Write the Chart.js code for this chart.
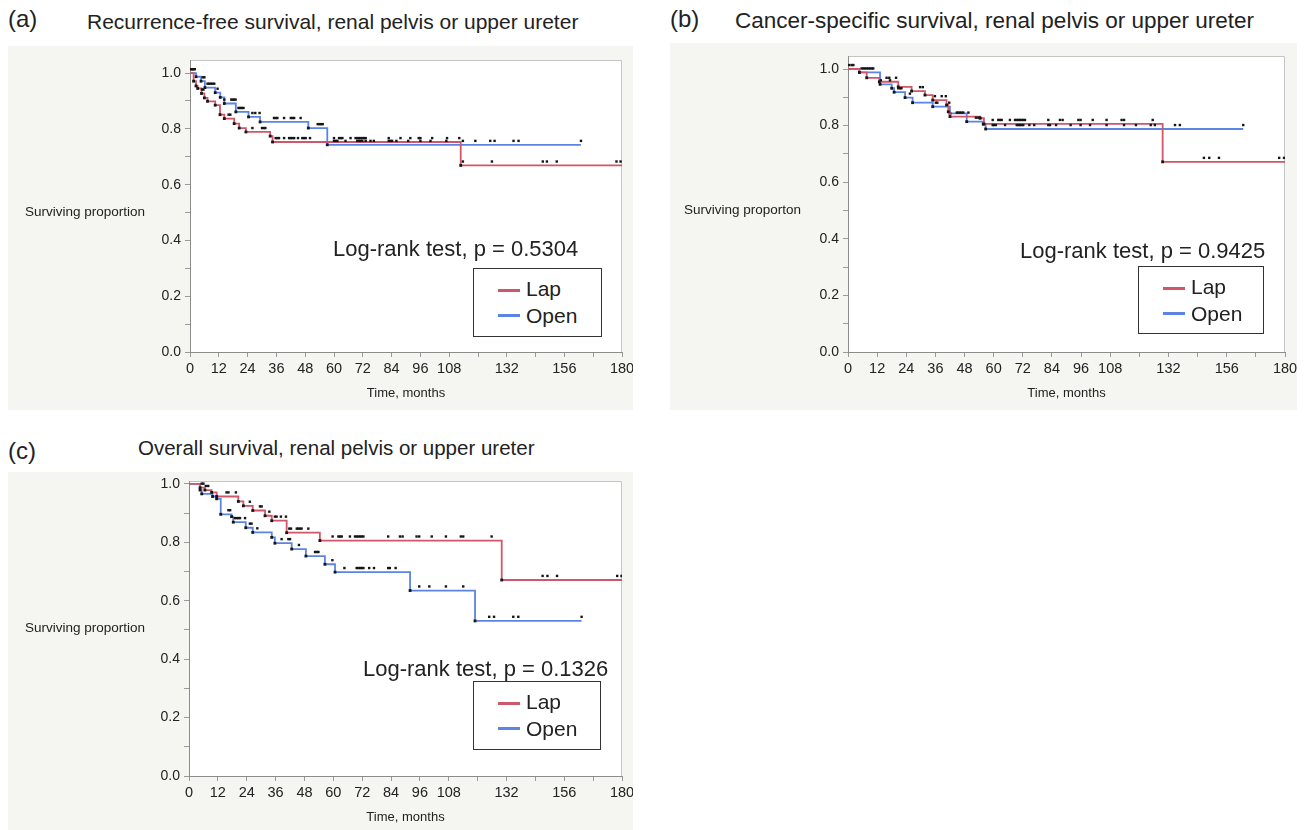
<!DOCTYPE html>
<html>
<head>
<meta charset="utf-8">
<title>Kaplan-Meier, renal pelvis or upper ureter</title>
<script src="https://cdn.jsdelivr.net/npm/chart.js@4.4.1/dist/chart.umd.min.js"></script>
<style>
  body { margin: 0; background: #fff; font-family: "Liberation Sans", Arial, sans-serif; color: #222; }
  #page { position: relative; width: 1307px; height: 830px; overflow: hidden; }
  .panel { position: absolute; background: #f5f5f2; }
  .txt { position: absolute; white-space: nowrap; line-height: 1; }
  canvas { position: absolute; }
  .legend { position: absolute; border: 1.5px solid #333; background: #fff; box-sizing: border-box; }
  .legend .swatch { position: absolute; height: 3px; width: 22px; }
</style>
</head>
<body>
<div id="page"></div>
<script>
// (a) recurrence-free survival: step times (months) and survival after each step
var rfsLapTimes = [0, 1.5, 2.5, 3.2, 4.8, 6, 7.3, 10.5, 12.5, 14.3, 18.4, 20.5, 23.3, 33.4, 34.4, 112.8];
var rfsLapSurv = [1.0, 0.971, 0.954, 0.945, 0.927, 0.911, 0.899, 0.885, 0.851, 0.837, 0.819, 0.803, 0.789, 0.774, 0.753, 0.669];
var rfsLapEnd = 180;
var rfsLapCensor = [0.8, 5, 5.6, 16.1, 16.8, 26, 30, 30.7, 31.4, 35.7, 36.4, 37.1, 39.2, 41.3, 42, 42.7, 43.4, 45, 46.8, 47.5, 48.2, 50,
  60, 62.1, 62.8, 63.5, 66.9, 69, 69.7, 70.4, 71.1, 71.8, 72.5, 73.2, 82.8, 87.7, 91.8, 95.3, 96, 100.9, 107.1, 112.2,
  113.7, 125.8, 147, 148.7, 152.8, 177.7, 179.4];
var rfsOpenTimes = [0, 2.5, 4.6, 6.2, 10.5, 12.6, 14.3, 19.1, 24.4, 29.2, 49.3, 57.2];
var rfsOpenSurv = [1.0, 0.987, 0.971, 0.948, 0.930, 0.913, 0.891, 0.861, 0.843, 0.825, 0.803, 0.743];
var rfsOpenEnd = 162.9;
var rfsOpenCensor = [0.5, 1, 1.5, 2, 5.3, 6, 7.3, 8, 8.7, 9.4, 10.1, 11.5, 14.3, 17.2, 17.8, 18.4, 19, 20.2, 20.9, 21.6, 22.3,
  26, 27.2, 29, 35, 35.7, 36.4, 39.2, 42, 42.7, 43.4, 46.1, 53.2, 53.9, 54.6, 55.3,
  60, 60.7, 61.4, 64.8, 69.7, 70.4, 71.1, 71.8, 73.2, 75.2, 76.6, 82.8, 83.5, 84.2, 86, 90.9, 96, 100.2, 106.8,
  113.7, 118.9, 125.1, 126.9, 134.8, 136.9, 162.9];

// (b) cancer-specific survival
var cssLapTimes = [0, 4.7, 7.7, 12.9, 20.7, 26.2, 31.7, 34.9, 40.6, 41.3, 42, 54.4, 56, 129.6];
var cssLapSurv = [1.0, 0.988, 0.969, 0.955, 0.937, 0.922, 0.908, 0.890, 0.873, 0.849, 0.832, 0.826, 0.806, 0.672];
var cssLapEnd = 180;
var cssLapCensor = [0.5, 1.5, 2.2, 15.9, 17, 19.8, 29.7, 30.8, 35.8, 38.6, 40.3, 44.8, 45.4, 46.1, 46.8, 47.5, 49.6,
  59.6, 61.9, 62.6, 63.3, 66.7, 68.8, 69.5, 70.2, 70.8, 71.5, 72.2, 72.9, 82.5, 87.3, 88.4, 94.9, 95.8, 100.8, 106.5,
  112.7, 113.7, 125.5, 146.6, 148.8, 152.8, 177.6, 179.6];
var cssOpenTimes = [0, 4.7, 13.2, 18, 19, 23.5, 26.6, 34.9, 42, 48.9, 55.7, 56.7];
var cssOpenSurv = [1.0, 0.988, 0.946, 0.932, 0.918, 0.899, 0.881, 0.867, 0.843, 0.814, 0.805, 0.788];
var cssOpenEnd = 162.8;
var cssOpenCensor = [5.6, 6.3, 7, 7.7, 8.4, 9.1, 9.8, 10.4, 13.5, 17.3, 20.7, 21.4, 22, 25.5, 36.2, 36.8, 41.7, 52.7, 53.7, 54.4,
  59.6, 60.1, 60.9, 64.7, 69.5, 70.2, 70.8, 71.5, 72.2, 74.7, 76.7, 82.5, 83.2, 85.7, 91.7, 95.8, 99.7, 106.5,
  113.7, 118.6, 124.7, 126.4, 134.7, 136.7, 162.8];

// (c) overall survival
var osLapTimes = [0, 4.6, 6.6, 9.4, 11.5, 20.5, 22.6, 26.5, 31.6, 34.4, 40.6, 54.4, 130];
var osLapSurv = [1.0, 0.987, 0.979, 0.971, 0.957, 0.940, 0.925, 0.909, 0.891, 0.874, 0.833, 0.806, 0.671];
var osLapEnd = 180;
var osLapCensor = [1, 2, 5.3, 6, 7, 8, 15.6, 16.4, 19.5, 25.3, 29.5, 30.2, 33.4, 35.7, 36.4, 38.2, 40.3, 41.7, 42.4,
  44.8, 45.4, 46.1, 46.8, 49.6, 59.7, 62.1, 62.8, 63.5, 66.9, 69, 69.7, 70.4, 71.1, 71.8, 72.5, 82.8, 87.7, 88.8,
  94.6, 95.7, 100.9, 106.8, 113, 114, 125.8, 147, 149, 153, 178, 179.8];
var osOpenTimes = [0, 4.6, 5.3, 9.8, 11.5, 13.2, 17.7, 18.4, 23.6, 26.5, 34.4, 35.7, 42.7, 48.6, 56.5, 60.7, 91.9, 118.9];
var osOpenSurv = [1.0, 0.979, 0.966, 0.957, 0.949, 0.896, 0.888, 0.869, 0.850, 0.834, 0.817, 0.797, 0.777, 0.753, 0.725, 0.698, 0.635, 0.531];
var osOpenEnd = 163.2;
var osOpenCensor = [1.5, 2.5, 3.5, 16.4, 17.1, 19.1, 19.8, 20.5, 21.2, 23.3, 25.3, 26, 28.4, 38.5, 41.3, 42, 45.7,
  52.4, 53.1, 53.8, 59.6, 64.6, 69.7, 70.4, 71.1, 71.8, 72.5, 74.9, 76.9, 82.8, 83.5, 85.9,
  95.7, 99.9, 106.8, 114, 124.8, 126.8, 134.8, 136.9, 163.2];

// tick labels (JMP leaves 120, 144 and 168 unlabeled)
var xTickLabels = ['0', '12', '24', '36', '48', '60', '72', '84', '96', '108', '', '132', '', '156', '', '180'];
var yTickLabels = ['0.0', '', '0.2', '', '0.4', '', '0.6', '', '0.8', '', '1.0'];
var groupNames = ['Lap', 'Open'];

var RED = '#d0566a';
var BLUE = '#5b84e4';
var DOT = '#151515';
var FONT = '"Liberation Sans", Arial, sans-serif';
var CENSOR_LIFT = 0.014; // censor marks sit a few pixels above the curve

var page = document.getElementById('page');

function addText(text, left, top, size) {
  var d = document.createElement('div');
  d.className = 'txt';
  d.textContent = text;
  d.style.left = left + 'px';
  d.style.top = top + 'px';
  d.style.fontSize = size + 'px';
  page.appendChild(d);
}

function addLegend(left, top, w, h) {
  var box = document.createElement('div');
  box.className = 'legend';
  box.style.left = left + 'px';
  box.style.top = top + 'px';
  box.style.width = w + 'px';
  box.style.height = h + 'px';
  var colors = [RED, BLUE];
  var lineY = [20, 44.5];
  var textY = [9, 35.5];
  for (var i = 0; i < groupNames.length; i++) {
    var sw = document.createElement('div');
    sw.className = 'swatch';
    sw.style.background = colors[i];
    sw.style.left = '24px';
    sw.style.top = lineY[i] + 'px';
    box.appendChild(sw);
    var t = document.createElement('div');
    t.className = 'txt';
    t.textContent = groupNames[i];
    t.style.left = '52px';
    t.style.top = textY[i] + 'px';
    t.style.fontSize = '21px';
    box.appendChild(t);
  }
  page.appendChild(box);
}

function survAt(times, surv, t) {
  var s = surv[0];
  for (var i = 0; i < times.length; i++) {
    if (times[i] <= t) s = surv[i];
  }
  return s;
}

function stepPoints(times, surv, end) {
  var pts = times.map(function (t, i) { return { x: t, y: surv[i] }; });
  pts.push({ x: end, y: surv[surv.length - 1] });
  return pts;
}

function censorPoints(times, surv, cens) {
  return cens.map(function (t) { return { x: t, y: survAt(times, surv, t) + CENSOR_LIFT }; });
}

// white plot area with a light frame on top and right
var framePlugin = {
  id: 'frame',
  beforeDraw: function (chart) {
    var ctx = chart.ctx, a = chart.chartArea;
    ctx.save();
    ctx.fillStyle = '#fff';
    ctx.fillRect(a.left, a.top, a.right - a.left, a.bottom - a.top);
    ctx.strokeStyle = '#c6c6c6';
    ctx.lineWidth = 1;
    ctx.beginPath();
    ctx.moveTo(a.left, a.top + 0.5);
    ctx.lineTo(a.right - 0.5, a.top + 0.5);
    ctx.lineTo(a.right - 0.5, a.bottom);
    ctx.stroke();
    ctx.restore();
  }
};

function kmChart(box, plot, yMax, lap, open) {
  var bg = document.createElement('div');
  bg.className = 'panel';
  bg.style.left = box.x + 'px';
  bg.style.top = box.y + 'px';
  bg.style.width = box.w + 'px';
  bg.style.height = box.h + 'px';
  page.appendChild(bg);

  var cv = document.createElement('canvas');
  cv.width = box.w;
  cv.height = box.h;
  cv.style.left = box.x + 'px';
  cv.style.top = box.y + 'px';
  page.appendChild(cv);

  var xHeight = box.y + box.h - plot.bottom;
  var titleSize = 13;
  var titlePad = (box.y + box.h - (plot.bottom + 41)) - titleSize * 1.2 / 2;

  function stepDataset(g, color) {
    var pts = stepPoints(g[0], g[1], g[2]);
    return {
      data: pts,
      stepped: 'before',
      borderColor: color,
      borderWidth: 1.8,
      fill: false,
      pointStyle: 'rect',
      pointBackgroundColor: DOT,
      pointBorderWidth: 0,
      pointRadius: function (c) { return (c.dataIndex === 0 || c.dataIndex === pts.length - 1) ? 0 : 2; }
    };
  }
  function censorDataset(g) {
    return {
      data: censorPoints(g[0], g[1], g[3]),
      showLine: false,
      pointStyle: 'rect',
      pointBackgroundColor: DOT,
      pointBorderWidth: 0,
      pointRadius: 1.7
    };
  }

  return new Chart(cv, {
    type: 'line',
    data: {
      datasets: [censorDataset(lap), censorDataset(open), stepDataset(lap, RED), stepDataset(open, BLUE)]
    },
    options: {
      responsive: false,
      animation: false,
      events: [],
      layout: { padding: { left: 0, top: plot.top - box.y, right: box.x + box.w - plot.right, bottom: 0 } },
      plugins: { legend: { display: false }, tooltip: { enabled: false } },
      scales: {
        x: {
          type: 'linear', min: 0, max: 180, bounds: 'data',
          afterFit: function (s) { s.height = xHeight; s.paddingLeft = 0; s.paddingRight = 0; },
          ticks: {
            stepSize: 12, autoSkip: false, maxRotation: 0, includeBounds: false, maxTicksLimit: 30,
            callback: function (v, i) { return xTickLabels[i]; },
            font: { family: FONT, size: 14.5 }, color: '#222', padding: 3
          },
          grid: { drawOnChartArea: false, tickLength: 5, color: '#9a9a9a' },
          border: { color: '#8c8c8c' },
          title: { display: true, text: 'Time, months', font: { family: FONT, size: titleSize }, color: '#222', padding: { top: 0, bottom: titlePad } }
        },
        y: {
          type: 'linear', min: 0, max: yMax, bounds: 'data',
          afterFit: function (s) { s.width = plot.left - box.x; s.paddingTop = 0; s.paddingBottom = 0; },
          ticks: {
            stepSize: 0.1, autoSkip: false, includeBounds: false, maxTicksLimit: 30,
            callback: function (v, i) { return yTickLabels[i]; },
            font: { family: FONT, size: 14 }, color: '#222', padding: 4
          },
          grid: { drawOnChartArea: false, tickLength: 5, color: '#9a9a9a' },
          border: { color: '#8c8c8c' }
        }
      }
    },
    plugins: [framePlugin]
  });
}

// (a)
kmChart({ x: 8, y: 46, w: 625, h: 364 }, { left: 190, top: 60, right: 622, bottom: 352 }, 1.047,
  [rfsLapTimes, rfsLapSurv, rfsLapEnd, rfsLapCensor], [rfsOpenTimes, rfsOpenSurv, rfsOpenEnd, rfsOpenCensor]);
addText('(a)', 8, 7, 24);
addText('Recurrence-free survival, renal pelvis or upper ureter', 87, 11, 21);
addText('Surviving proportion', 25, 205, 13.5);
addText('Log-rank test, p = 0.5304', 333, 238, 22);
addLegend(473, 268, 129, 69);

// (b)
kmChart({ x: 670, y: 43, w: 627, h: 367 }, { left: 848, top: 56, right: 1285, bottom: 352 }, 1.046,
  [cssLapTimes, cssLapSurv, cssLapEnd, cssLapCensor], [cssOpenTimes, cssOpenSurv, cssOpenEnd, cssOpenCensor]);
addText('(b)', 670, 7, 24);
addText('Cancer-specific survival, renal pelvis or upper ureter', 735, 10, 22.5);
addText('Surviving proporton', 684, 203, 13.5);
addText('Log-rank test, p = 0.9425', 1020, 240, 22);
addLegend(1138, 266, 126, 68);

// (c)
kmChart({ x: 8, y: 472, w: 625, h: 358 }, { left: 189, top: 481, right: 622, bottom: 776 }, 1.010,
  [osLapTimes, osLapSurv, osLapEnd, osLapCensor], [osOpenTimes, osOpenSurv, osOpenEnd, osOpenCensor]);
addText('(c)', 8, 439, 24);
addText('Overall survival, renal pelvis or upper ureter', 138, 438, 20.5);
addText('Surviving proportion', 25, 621, 13.5);
addText('Log-rank test, p = 0.1326', 363, 658, 22);
addLegend(473, 681, 128, 69);
</script>
</body>
</html>
